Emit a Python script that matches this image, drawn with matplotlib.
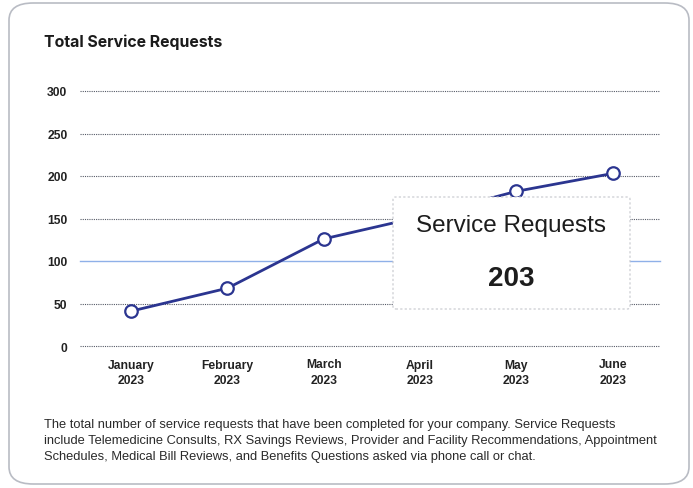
import matplotlib
matplotlib.use("Agg")
import matplotlib.pyplot as plt
from matplotlib.patches import FancyBboxPatch

# monthly totals
months = ["January\n2023", "February\n2023", "March\n2023", "April\n2023", "May\n2023", "June\n2023"]
requests = [41, 68, 126, 152, 182, 203]
yticks = [0, 50, 100, 150, 200, 250, 300]

navy = "#2b3590"

fig = plt.figure(figsize=(6.93, 4.89), dpi=100)
fig.patch.set_facecolor("white")

# card outline
card = FancyBboxPatch((9 / 693, 4 / 489), 680 / 693, 481 / 489,
                      boxstyle="round,pad=0,rounding_size=0.035",
                      transform=fig.transFigure, fc="white", ec="#b9bcc4", lw=1.2,
                      zorder=-10)
fig.patches.append(card)

fig.text(44 / 693, 1 - 42 / 489, "Total Service Requests", family="Inter",
         weight="bold", fontsize=11.4, color="#1b1b1b", va="center")

ax = fig.add_axes([80 / 693, 1 - 347 / 489, 580 / 693, 255 / 489])
ax.set_facecolor("none")
x = list(range(len(months)))
ax.set_xlim(-0.53, 5.49)
ax.set_ylim(0, 300)

for v in yticks:
    if v == 100:
        ax.axhline(v, color="#8fb0e8", lw=1.0, zorder=0, clip_on=False)
    else:
        ax.axhline(v, color="#555a66", lw=0.8, ls=(0, (1, 1)), zorder=0, clip_on=False)

ax.plot(x, requests, color=navy, lw=2, marker="o", ms=9, mfc="white",
        mec=navy, mew=1.6, zorder=3, clip_on=False)

for s in ax.spines.values():
    s.set_visible(False)
ax.set_yticks(yticks)
ax.set_xticks(x)
ax.set_xticklabels(months, family="Liberation Sans", fontsize=8.7,
                   weight="bold", color="#222222", linespacing=1.35)
ax.set_yticklabels([str(v) for v in yticks], family="Liberation Sans",
                   fontsize=8.7, weight="bold", color="#222222")
ax.tick_params(length=0)
ax.tick_params(axis="y", pad=9)
ax.tick_params(axis="x", pad=9)

# hover tooltip for the last point
tip = FancyBboxPatch((393 / 693, 1 - 310 / 489), 237 / 693, 112 / 489,
                     boxstyle="round,pad=0,rounding_size=0.004",
                     transform=fig.transFigure, fc="white", ec="#c4c6cc",
                     lw=0.8, ls=(0, (2, 2)), zorder=5)
fig.patches.append(tip)
fig.text(511 / 693, 1 - 226 / 489, "Service Requests", family="Liberation Sans",
         fontsize=17.5, color="#1d1d1d", ha="center", va="center", zorder=6)
fig.text(511 / 693, 1 - 279 / 489, str(requests[-1]), family="Liberation Sans",
         fontsize=20, weight="bold", color="#1d1d1d", ha="center", va="center", zorder=6)

footer = ("The total number of service requests that have been completed for your company. Service Requests\n"
          "include Telemedicine Consults, RX Savings Reviews, Provider and Facility Recommendations, Appointment\n"
          "Schedules, Medical Bill Reviews, and Benefits Questions asked via phone call or chat.")
fig.text(44 / 693, 1 - 419 / 489, footer, family="Liberation Sans", fontsize=9.3,
         color="#2a2a2a", va="top", linespacing=1.45)

fig.savefig("out.png", dpi=100)
